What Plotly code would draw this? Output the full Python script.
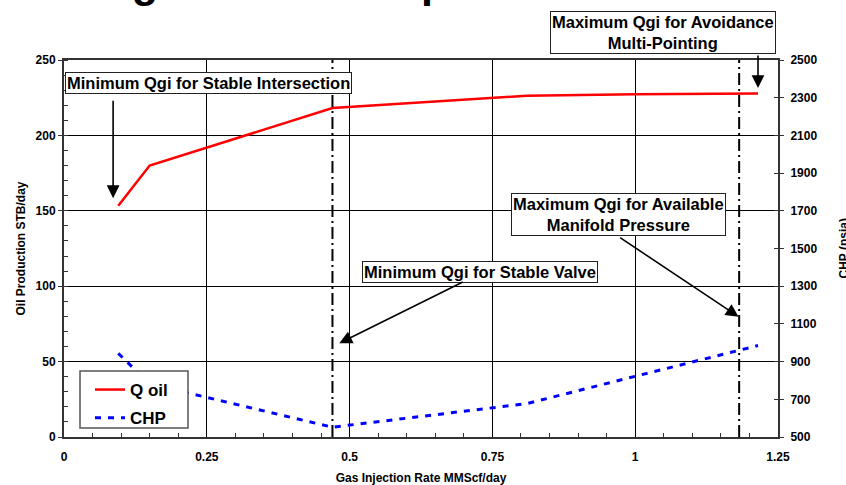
import plotly.graph_objects as go

# Gas injection rate (MMScf/day) and the two performance curves
qgi = [0.095, 0.15, 0.47, 0.81, 1.0, 1.215]
q_oil = [153.3, 180.0, 218.1, 226.3, 227.3, 227.8]
chp = [944, 782, 552, 677, 822, 985]

# Operating limits (MMScf/day)
qgi_min_valve = 0.470
qgi_max_manifold = 1.182

FONT = "Liberation Sans, Arial, sans-serif"
BOLD = dict(family=FONT, weight="bold", color="black")

# plot-area geometry in page pixels (used to place paper-referenced items)
L, R, T, B = 64, 778, 60, 437


def px_x(p):
    return (p - L) / (R - L)


def px_y(p):
    return (B - p) / (B - T)


fig = go.Figure()

fig.add_trace(go.Scatter(
    x=qgi, y=q_oil, name="Q oil", mode="lines",
    line=dict(color="#ff0000", width=2.5),
    legendgroup="a",
))
fig.add_trace(go.Scatter(
    x=qgi, y=chp, name="CHP", mode="lines", yaxis="y2",
    line=dict(color="#0000ff", width=3, dash="6px,7px"),
    legendgroup="b",
))
# carries the inner tick marks of the right axis
fig.add_trace(go.Scatter(x=[None], y=[None], yaxis="y3", showlegend=False, hoverinfo="skip"))

# dash-dot limit lines
for xv in (qgi_min_valve, qgi_max_manifold):
    fig.add_shape(type="line", xref="x", yref="y", x0=xv, x1=xv, y0=0, y1=250,
                  line=dict(color="black", width=2, dash="12px,4px,2px,4px"))

# legend frame
fig.add_shape(type="rect", xref="paper", yref="paper",
              x0=px_x(80), x1=px_x(188), y0=px_y(428), y1=px_y(371),
              line=dict(color="#555", width=1.5), fillcolor="white", layer="above")

box = dict(bgcolor="white", bordercolor="#222", borderwidth=1, borderpad=1,
           font=dict(size=16.5, **BOLD), showarrow=False)

fig.add_annotation(x=0.2526, y=234.6, text="Minimum Qgi for Stable Intersection", **box)
fig.add_annotation(xref="paper", yref="paper", x=px_x(662.5), y=px_y(32.5),
                   xanchor="center", yanchor="middle",
                   text="Maximum Qgi for Avoidance<br>Multi-Pointing", **box)
fig.add_annotation(x=0.729, y=109.7, text="Minimum Qgi for Stable Valve", **box)
fig.add_annotation(x=0.970, y=147.3, text="Maximum Qgi for Available<br>Manifold Pressure", **box)

arrow = dict(text="", showarrow=True, arrowhead=2, arrowsize=1.6, arrowwidth=1.6,
             arrowcolor="black", axref="pixel", ayref="pixel")
fig.add_annotation(x=0.086, y=158.4, ax=0, ay=-99, **arrow)
fig.add_annotation(x=1.215, y=231.4, ax=0, ay=-34, **arrow)
fig.add_annotation(x=0.482, y=62.2, ax=125, ay=-62, **arrow)
fig.add_annotation(x=1.181, y=79.8, ax=-120, ay=-80, **arrow)

# right-hand axis title, running off the page edge
fig.add_annotation(xref="paper", yref="paper", x=px_x(843), y=0.5, textangle=-90,
                   xanchor="center", yanchor="middle",
                   text="CHP (psia)", showarrow=False, font=dict(size=12, **BOLD))

# chart title, mostly above the page
fig.add_annotation(xref="paper", yref="paper", x=px_x(39), y=1.0, yshift=52,
                   xanchor="left", yanchor="bottom",
                   text="Designed Stable Operation Limits", showarrow=False,
                   font=dict(size=43, **BOLD))

axis_common = dict(
    showline=True, linecolor="#333", linewidth=2,
    tickfont=dict(size=12, **BOLD),
    zeroline=False, automargin=False,
)

fig.update_layout(
    width=846, height=485,
    margin=dict(l=L, r=846 - R, t=T, b=485 - B, autoexpand=False),
    paper_bgcolor="white", plot_bgcolor="white",
    font=dict(family=FONT, color="black"),
    xaxis=dict(
        range=[0, 1.25], dtick=0.25, tick0=0,
        showgrid=True, gridcolor="black", gridwidth=1,
        ticks="", mirror=True,
        minor=dict(dtick=0.05, ticks="inside", ticklen=4, tickcolor="#333", showgrid=False),
        title=dict(text="Gas Injection Rate MMScf/day", font=dict(size=12, **BOLD), standoff=10),
        ticklabelstandoff=8,
        **axis_common,
    ),
    yaxis=dict(
        range=[0, 250], dtick=50,
        showgrid=True, gridcolor="black", gridwidth=1,
        ticks="outside", ticklen=4, tickcolor="#333",
        minor=dict(dtick=10, ticks="inside", ticklen=4, tickcolor="#333", showgrid=False),
        title=dict(text="Oil Production STB/day", font=dict(size=12, **BOLD), standoff=7),
        **axis_common,
    ),
    yaxis2=dict(
        range=[500, 2500], dtick=200, tick0=500, overlaying="y", side="right", anchor="x",
        showgrid=False, ticks="outside", ticklen=4, tickcolor="#333",
        ticklabelstandoff=4,
        **axis_common,
    ),
    yaxis3=dict(
        range=[500, 2500], dtick=200, tick0=500, overlaying="y", side="right", anchor="x",
        showgrid=False, ticks="inside", ticklen=4, tickcolor="#333",
        showticklabels=False, showline=False, zeroline=False, automargin=False,
    ),
    legend=dict(
        x=px_x(90), y=px_y(372), xanchor="left", yanchor="top",
        bgcolor="rgba(0,0,0,0)", borderwidth=0,
        font=dict(size=17, **BOLD),
        tracegroupgap=3, traceorder="grouped",
    ),
    showlegend=True,
)

fig.write_html("out.html")
